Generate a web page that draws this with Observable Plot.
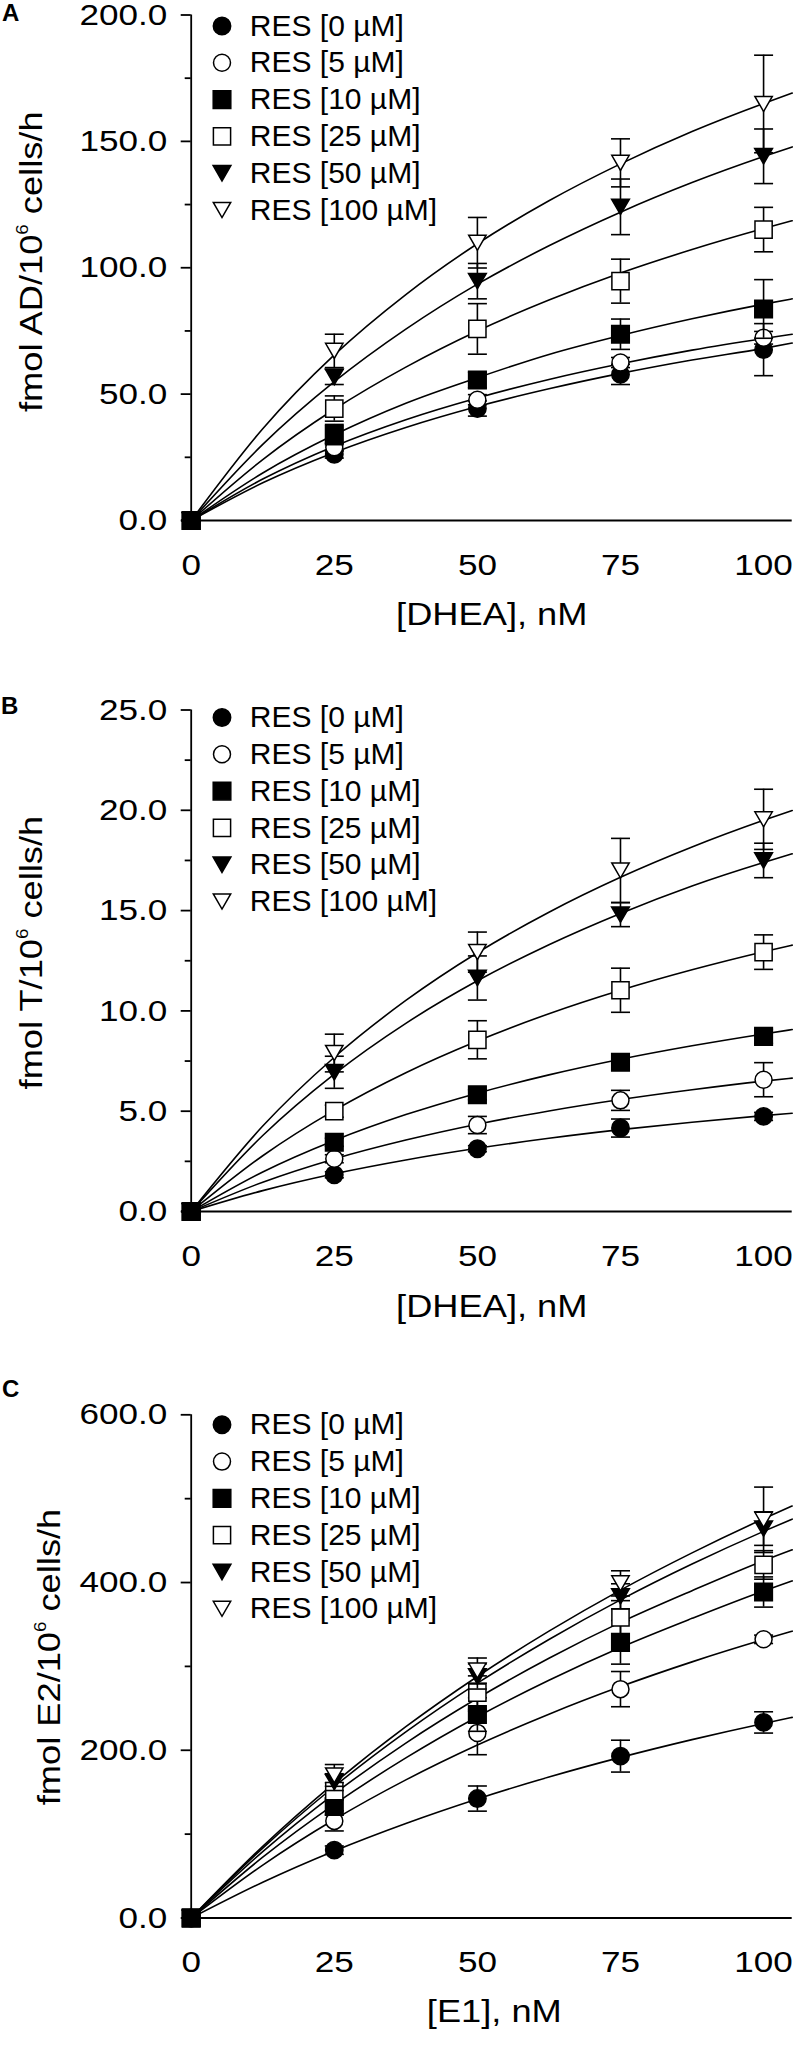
<!DOCTYPE html>
<html><head><meta charset="utf-8">
<script src="https://cdn.jsdelivr.net/npm/d3@7"></script>
<script src="https://cdn.jsdelivr.net/npm/@observablehq/plot@0.6"></script>
<style>body{margin:0;background:#fff} svg{display:block}</style>
</head><body><div id="c"></div>
<script>
// ---------- data ----------
const seriesLabels = ["RES [0 µM]", "RES [5 µM]", "RES [10 µM]", "RES [25 µM]", "RES [50 µM]", "RES [100 µM]"];
const doseX = [0, 25, 50, 75, 100];
const fitX = [0, 12.5, 25, 37.5, 50, 62.5, 75, 87.5, 100, 105];
const xTicks = [0, 25, 50, 75, 100];

// Panel A: AD
const aMean = [
  [0, 26.2, 44.3, 57.8, 67.6],
  [0, 29.0, 47.8, 62.5, 72.3],
  [0, 34.0, 55.6, 73.7, 83.7],
  [0, 44.3, 75.8, 94.7, 115.1],
  [0, 56.8, 94.7, 124.1, 144.1],
  [0, 67.1, 109.9, 141.5, 164.8]
];
const aErr = [
  [0, 1.5, 3, 4, 10.3],
  [0, 1.5, 2, 2, 2.5],
  [0, 4, 3, 6, 11.6],
  [0, 5, 10, 8.7, 8.8],
  [0, 3, 7, 11, 10.8],
  [0, 6.6, 10, 9.5, 19.3]
];
const aFit = [
  [0, 14.9, 26.9, 36.8, 45.1, 52.1, 58.2, 63.5, 68.1, 70.2],
  [0, 16.4, 29.4, 39.9, 48.5, 55.8, 62.0, 67.4, 72.0, 73.7],
  [0, 18.8, 33.9, 46.4, 56.5, 65.7, 73.2, 79.8, 85.6, 87.7],
  [0, 24.1, 44.0, 60.7, 75.0, 87.2, 97.9, 107.2, 115.5, 118.6],
  [0, 30.1, 54.9, 75.7, 93.5, 108.7, 122.0, 133.7, 144.0, 147.8],
  [0, 36.3, 65.5, 89.4, 109.5, 126.5, 141.1, 153.9, 165.0, 169.1]
];
const aYMajor = [0, 50, 100, 150, 200];
const aYMinor = [25, 75, 125, 175];

// Panel B: T
const bMean = [
  [0, 1.83, 3.13, 4.16, 4.74],
  [0, 2.63, 4.31, 5.54, 6.57],
  [0, 3.45, 5.82, 7.44, 8.73],
  [0, 5.0, 8.56, 11.03, 12.93],
  [0, 6.94, 11.64, 14.8, 17.5],
  [0, 7.9, 12.93, 17.0, 19.55]
];
const bErr = [
  [0, 0.15, 0.15, 0.45, 0.2],
  [0, 0.2, 0.43, 0.5, 0.85],
  [0, 0.2, 0.25, 0.3, 0.35],
  [0, 0.3, 0.95, 1.1, 0.86],
  [0, 0.8, 1.1, 0.6, 0.86],
  [0, 0.94, 1.0, 1.6, 1.5]
];
const bFit = [
  [0, 1.04, 1.88, 2.57, 3.15, 3.65, 4.08, 4.45, 4.78, 4.90],
  [0, 1.46, 2.62, 3.56, 4.35, 5.01, 5.58, 6.07, 6.50, 6.65],
  [0, 1.97, 3.54, 4.83, 5.90, 6.81, 7.59, 8.26, 8.85, 9.07],
  [0, 2.78, 5.04, 6.92, 8.50, 9.86, 11.03, 12.05, 12.95, 13.28],
  [0, 3.79, 6.85, 9.38, 11.5, 13.30, 14.86, 16.23, 17.40, 17.83],
  [0, 4.26, 7.69, 10.52, 12.9, 14.92, 16.66, 18.17, 19.5, 19.99]
];
const bYMajor = [0, 5, 10, 15, 20, 25];
const bYMinor = [2.5, 7.5, 12.5, 17.5, 22.5];

// Panel C: E2
const cMean = [
  [0, 80.9, 142.4, 193.0, 233.2],
  [0, 115.8, 220.7, 272.9, 332.3],
  [0, 133.0, 242.6, 328.7, 388.7],
  [0, 151.3, 268.7, 358.4, 421.0],
  [0, 162.0, 288.0, 383.5, 464.3],
  [0, 170.0, 295.0, 399.0, 474.8]
];
const cErr = [
  [0, 5, 15, 19, 12.7],
  [0, 12, 26, 21, 5],
  [0, 10, 20, 26, 18],
  [0, 10, 20, 20, 17],
  [0, 10, 15, 15, 20],
  [0, 13, 15, 15, 39]
];
const cFit = [
  [0, 42.7, 80.0, 112.8, 142.0, 168.1, 191.5, 212.7, 232.0, 239.2],
  [0, 63.1, 117.4, 164.7, 206.3, 243.0, 275.9, 305.4, 332.0, 342.0],
  [0, 72.5, 135.5, 190.9, 240.0, 283.5, 322.6, 357.3, 390.0, 401.9],
  [0, 79.2, 148.1, 208.6, 262.0, 309.7, 352.5, 390.3, 426.0, 439.0],
  [0, 83.4, 156.8, 221.9, 280.0, 332.1, 379.3, 422.0, 461.0, 475.6],
  [0, 85.5, 160.9, 228.1, 288.0, 342.0, 391.0, 435.4, 476.0, 491.3]
];
const cYMajor = [0, 200, 400, 600];
const cYMinor = [100, 300, 500];

// ---------- symbols ----------
const rOf = s => Math.sqrt(s / Math.PI);
const symSquare = {draw(ctx, s) { const r = rOf(s); ctx.rect(-r, -r, 2 * r, 2 * r); }};
const symTriDown = {draw(ctx, s) { const r = rOf(s); const h = r * Math.sqrt(3) / 2; ctx.moveTo(-r, -h); ctx.lineTo(r, -h); ctx.lineTo(0, h); ctx.closePath(); }};
const symCap = {draw(ctx, s) { ctx.moveTo(-9.5, 0); ctx.lineTo(9.5, 0); }};
const styles = [
  {symbol: "circle", r: 8.7, fill: "black"},
  {symbol: "circle", r: 8.5, fill: "white"},
  {symbol: symSquare, r: 8.8, fill: "black"},
  {symbol: symSquare, r: 8.6, fill: "white"},
  {symbol: symTriDown, r: 8.9, fill: "black"},
  {symbol: symTriDown, r: 8.7, fill: "white"}
];
const topAtOrigin = 2; // series whose marker shows on top at the origin

const STRETCH = 1.17;
function stretch(sel, k) {
  sel.each(function () {
    const x = +(this.getAttribute("x") || 0);
    const tr = this.getAttribute("transform") || "";
    this.setAttribute("transform", `${tr} translate(${x},0) scale(${k},1) translate(${-x},0)`);
  });
}

function panel(o) {
  const pts = [], fits = [];
  seriesLabels.forEach((lab, s) => {
    doseX.forEach((x, i) => pts.push({s, x, y: o.mean[s][i], e: o.err[s][i]}));
    fitX.forEach((x, i) => fits.push({s, x, y: o.fit[s][i]}));
  });
  const L = 190.7, R = 17.3;
  const marks = [
    Plot.ruleY([0], {strokeWidth: 2}),
    Plot.ruleX([0], {strokeWidth: 1.8}),
    Plot.axisY({ticks: o.yMajor, tickSize: 10, tickPadding: 14, tickFormat: d => d.toFixed(1), strokeWidth: 1.8, label: null}),
    Plot.axisY({ticks: o.yMinor, tickSize: 6, tickFormat: () => "", strokeWidth: 1.8, label: null}),
    Plot.axisX({ticks: xTicks, tickSize: 0, tickPadding: 32.7, label: null}),
    Plot.line(fits, {x: "x", y: "y", z: "s", curve: "monotone-x", stroke: "black", strokeWidth: 1.6})
  ];
  seriesLabels.forEach((lab, s) => {
    const ps = pts.filter(d => d.s === s);
    const st = styles[s];
    marks.push(
      Plot.ruleX(ps, {x: "x", y1: d => d.y - d.e, y2: d => d.y + d.e, stroke: "black", strokeWidth: 1.6}),
      Plot.dot(ps, {x: "x", y: d => d.y + d.e, symbol: symCap, r: 5, fill: "none", stroke: "black", strokeWidth: 1.6}),
      Plot.dot(ps, {x: "x", y: d => d.y - d.e, symbol: symCap, r: 5, fill: "none", stroke: "black", strokeWidth: 1.6}),
      Plot.dot(ps, {x: "x", y: "y", symbol: st.symbol, r: st.r, fill: st.fill, stroke: "black", strokeWidth: 1.5}),
      Plot.dot([lab], {frameAnchor: "top-left", dx: 30.8, dy: o.legendTop + s * 36.8, symbol: st.symbol, r: st.r, fill: st.fill, stroke: "black", strokeWidth: 1.5}),
      Plot.text([lab], {frameAnchor: "top-left", dx: 58.6, dy: o.legendTop + s * 36.8, text: d => d, textAnchor: "start", lineAnchor: "middle", fontSize: 30, fill: "black"})
    );
  });
  // origin marker drawn last, as in the reference
  const st0 = styles[topAtOrigin];
  marks.push(Plot.dot(pts.filter(d => d.s === topAtOrigin && d.x === 0), {x: "x", y: "y", symbol: st0.symbol, r: st0.r, fill: st0.fill, stroke: "black", strokeWidth: 1.5}));

  const svg = Plot.plot({
    width: 809, height: o.height,
    marginLeft: L, marginRight: R, marginTop: o.mt, marginBottom: o.mb,
    x: {domain: [0, 105]},
    y: {domain: [0, o.yMajor[o.yMajor.length - 1]]},
    style: {fontFamily: "'Liberation Sans', Arial, sans-serif", fontSize: "30px", color: "black", background: "white", overflow: "visible"},
    marks
  });
  const g = d3.select(svg);
  g.selectAll('g[aria-label="y-axis tick label"] text, g[aria-label="x-axis tick label"] text').call(stretch, STRETCH);
  // panel letter
  g.append("text").attr("x", o.letterX).attr("y", o.letterY).attr("text-anchor", "start")
    .attr("font-weight", "bold").attr("font-size", 24).attr("fill", "black").text(o.letter);
  // y title with superscript
  const yt = g.append("text")
    .attr("transform", `translate(${o.yTitleX},${o.yTitleY}) rotate(-90) scale(${STRETCH},1)`)
    .attr("text-anchor", "middle").attr("font-size", 31).attr("fill", "black").style("white-space", "pre");
  yt.append("tspan").text(o.yTitle[0]);
  yt.append("tspan").attr("font-size", 16).attr("dy", -14).text(o.yTitle[1]);
  yt.append("tspan").attr("dy", 14).text(o.yTitle[2]);
  // x title
  g.append("text")
    .attr("transform", `translate(${o.xTitleX},${o.xTitleY}) scale(${STRETCH},1)`)
    .attr("text-anchor", "middle").attr("font-size", 31).attr("fill", "black").style("white-space", "pre")
    .text(o.xTitle);
  return svg;
}

const host = document.getElementById("c");
host.appendChild(panel({
  mean: aMean, err: aErr, fit: aFit, yMajor: aYMajor, yMinor: aYMinor,
  height: 680, mt: 14.5, mb: 160, legendTop: 11,
  letter: "A", letterX: 2, letterY: 21,
  yTitle: ["fmol AD/10", "6", " cells/h"], yTitleX: 41.7, yTitleY: 261.7,
  xTitle: "[DHEA], nM", xTitleX: 491.8, xTitleY: 625
}));
host.appendChild(panel({
  mean: bMean, err: bErr, fit: bFit, yMajor: bYMajor, yMinor: bYMinor,
  height: 680, mt: 29.5, mb: 149, legendTop: 7.5,
  letter: "B", letterX: 1, letterY: 714 - 680,
  yTitle: ["fmol T/10", "6", " cells/h"], yTitleX: 41.7, yTitleY: 952.6 - 680,
  xTitle: "[DHEA], nM", xTitleX: 491.8, xTitleY: 1317 - 680
}));
host.appendChild(panel({
  mean: cMean, err: cErr, fit: cFit, yMajor: cYMajor, yMinor: cYMinor,
  height: 686, mt: 54.3, mb: 128.5, legendTop: 10,
  letter: "C", letterX: 2, letterY: 1397 - 1360,
  yTitle: ["fmol E2/10", "6", " cells/h"], yTitleX: 60, yTitleY: 1657 - 1360,
  xTitle: "[E1], nM", xTitleX: 494.3, xTitleY: 2022 - 1360
}));
</script>
</body></html>
